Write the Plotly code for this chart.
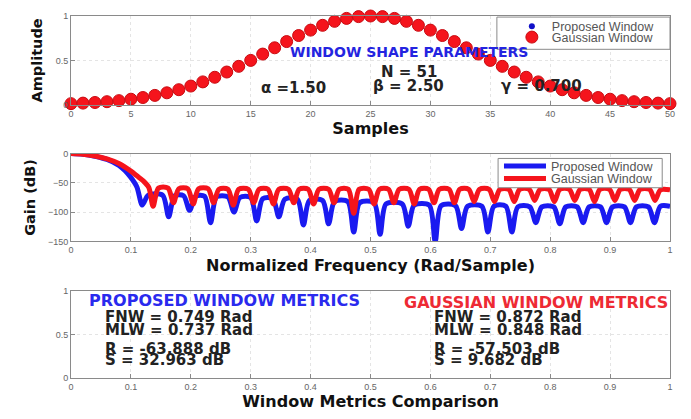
import plotly.graph_objects as go

# ---------------- data ----------------
samples = list(range(51))
gauss_amp = [0.013, 0.019, 0.026, 0.035, 0.047, 0.063, 0.082, 0.106, 0.135, 0.170,
             0.211, 0.258, 0.310, 0.369, 0.433, 0.500, 0.571, 0.642, 0.712, 0.780,
             0.841, 0.895, 0.940, 0.973, 0.993, 1.000, 0.993, 0.973, 0.940, 0.895,
             0.841, 0.780, 0.712, 0.642, 0.571, 0.500, 0.433, 0.369, 0.310, 0.258,
             0.211, 0.170, 0.135, 0.106, 0.082, 0.063, 0.047, 0.035, 0.026, 0.019, 0.013]
proposed_amp = list(gauss_amp)

# Proposed window magnitude response (dB): main lobe, then per side lobe:
# null (freq, depth), arch top start / end frequency, arch top level
blue_main_f = [0.0, 0.02, 0.04, 0.06, 0.08, 0.09, 0.10, 0.11]
blue_main_db = [0, -1, -4.5, -10, -20, -29, -41, -57]
blue_null_f = [0.119, 0.163, 0.198, 0.233, 0.272, 0.310, 0.347, 0.388, 0.430, 0.472, 0.516,
               0.563, 0.608, 0.652, 0.696, 0.736, 0.776, 0.816, 0.855, 0.894, 0.934, 0.974]
blue_null_db = [-88, -108, -97, -118, -100, -115, -108, -122, -120, -134, -138,
                -124, -150, -128, -134, -134, -118, -120, -118, -118, -118, -118]
blue_top_l = [0.129, 0.173, 0.208, 0.243, 0.282, 0.320, 0.357, 0.398, 0.440, 0.482, 0.526,
              0.573, 0.618, 0.662, 0.706, 0.746, 0.786, 0.826, 0.865, 0.904, 0.944, 0.984]
blue_top_r = [0.153, 0.188, 0.223, 0.262, 0.300, 0.337, 0.378, 0.420, 0.462, 0.506, 0.553,
              0.598, 0.642, 0.686, 0.726, 0.766, 0.806, 0.845, 0.884, 0.924, 0.964, 1.000]
blue_top_db = [-71, -72, -73, -74, -75, -77, -78, -80, -82, -84, -86,
               -88, -89, -90, -90, -91, -91, -91, -91, -91, -91, -90]

# Gaussian window magnitude response (dB)
red_main_f = [0.0, 0.02, 0.04, 0.06, 0.08, 0.10, 0.11, 0.12, 0.13]
red_main_db = [0, -1, -4, -9, -17, -30, -38, -46, -58]
red_null_f = [0.137, 0.171, 0.204, 0.238, 0.271, 0.305, 0.338, 0.372, 0.405, 0.439, 0.472, 0.506, 0.539,
              0.573, 0.606, 0.640, 0.673, 0.707, 0.740, 0.774, 0.807, 0.841, 0.874, 0.908, 0.941, 0.975]
red_null_db = [-90, -84, -86, -84, -88, -84, -86, -84, -86, -84, -102, -86, -84,
               -86, -84, -84, -82, -82, -82, -80, -82, -80, -82, -80, -80, -80]
red_top_l = [0.146, 0.180, 0.213, 0.247, 0.280, 0.314, 0.347, 0.381, 0.414, 0.448, 0.481, 0.515, 0.548,
             0.582, 0.615, 0.649, 0.682, 0.716, 0.749, 0.783, 0.816, 0.850, 0.883, 0.917, 0.950, 0.984]
red_top_r = [0.162, 0.195, 0.229, 0.262, 0.296, 0.329, 0.363, 0.396, 0.430, 0.463, 0.497, 0.530, 0.564,
             0.597, 0.631, 0.664, 0.698, 0.731, 0.765, 0.798, 0.832, 0.865, 0.899, 0.932, 0.966, 1.000]
red_top_db = [-59, -60, -60, -61, -61, -61, -61, -61, -61, -61, -61, -61, -61,
              -61, -61, -61, -61, -61, -61, -61, -61, -61, -61, -61, -61, -62]

params_title = "WINDOW SHAPE PARAMETERS"
param_texts = ["N = 51", "β = 2.50", "α =1.50", "γ = 0.700"]
proposed_title = "PROPOSED WINDOW METRICS"
gauss_title = "GAUSSIAN WINDOW METRICS"
proposed_metrics = ["FNW = 0.749 Rad", "MLW = 0.737 Rad", "R = -63.888 dB", "S = 32.963 dB"]
gauss_metrics = ["FNW = 0.872 Rad", "MLW = 0.848 Rad", "R = -57.503 dB", "S = 9.682 dB"]
legend_names = ["Proposed Window", "Gaussian Window"]


def build(main_f, main_db, null_f, null_db, tl, tr, top_db):
    xs, ys = list(main_f), list(main_db)
    for nf, nd, a, b, td in zip(null_f, null_db, tl, tr, top_db):
        xs += [nf, a, b]
        ys += [nd, td, td]
    return xs, ys


BLUE = "#1a1af0"
RED = "#f5141c"
FONT = "Arial"
BOLD = "DejaVu Sans"

fig = go.Figure()

# top panel
fig.add_trace(go.Scatter(x=samples, y=proposed_amp, mode="markers", name=legend_names[0],
                         marker=dict(color="#1010c8", size=6), cliponaxis=False,
                         xaxis="x", yaxis="y", legend="legend"))
fig.add_trace(go.Scatter(x=samples, y=gauss_amp, mode="markers", name=legend_names[1],
                         marker=dict(color=RED, size=12, line=dict(color="#c80a10", width=1)),
                         cliponaxis=False, xaxis="x", yaxis="y", legend="legend2"))

# middle panel
bx, by = build(blue_main_f, blue_main_db, blue_null_f, blue_null_db, blue_top_l, blue_top_r, blue_top_db)
rx, ry = build(red_main_f, red_main_db, red_null_f, red_null_db, red_top_l, red_top_r, red_top_db)
fig.add_trace(go.Scatter(x=bx, y=by, mode="lines", name=legend_names[0],
                         line=dict(color=BLUE, width=5, shape="spline", smoothing=0.8),
                         xaxis="x2", yaxis="y2", legend="legend3"))
fig.add_trace(go.Scatter(x=rx, y=ry, mode="lines", name=legend_names[1],
                         line=dict(color=RED, width=5, shape="spline", smoothing=0.8),
                         xaxis="x2", yaxis="y2", legend="legend4"))

# bottom panel (empty axes)
fig.add_trace(go.Scatter(x=[None], y=[None], mode="markers", showlegend=False,
                         xaxis="x3", yaxis="y3"))

axis_common = dict(showline=True, mirror=True, linecolor="#8a8a8a", linewidth=1,
                   ticks="inside", ticklen=4, tickcolor="#8a8a8a",
                   showgrid=True, gridcolor="#e4e4e4", griddash="dot", zeroline=False,
                   tickfont=dict(family=FONT, size=9, color="#666666"))
title_font = dict(family=BOLD, size=16, color="#111111", weight="bold")
ytitle_font = dict(family=BOLD, size=14.5, color="#111111", weight="bold")

leg_common = dict(bgcolor="rgba(0,0,0,0)", borderwidth=0, xanchor="left", yanchor="middle",
                  font=dict(family=FONT, size=12.5, color="#555555"))

fig.update_layout(
    width=691, height=419,
    margin=dict(l=71, r=21, t=11, b=37),
    paper_bgcolor="white", plot_bgcolor="white",
    font=dict(family=FONT),
    xaxis=dict(domain=[0, 1], range=[0, 50], tick0=0, dtick=5, anchor="y",
               title=dict(text="Samples", font=title_font, standoff=5), **axis_common),
    yaxis=dict(domain=[0.7547, 1], range=[0, 1], dtick=0.5, anchor="x",
               title=dict(text="Amplitude", font=ytitle_font, standoff=9), **axis_common),
    xaxis2=dict(domain=[0, 1], range=[0, 1], tick0=0, dtick=0.1, anchor="y2",
                title=dict(text="Normalized Frequency (Rad/Sample)", font=title_font, standoff=5),
                **axis_common),
    yaxis2=dict(domain=[0.3774, 0.6199], range=[-150, 0], dtick=50, anchor="x2",
                title=dict(text="Gain (dB)", font=ytitle_font, standoff=8), **axis_common),
    xaxis3=dict(domain=[0, 1], range=[0, 1], tick0=0, dtick=0.1, anchor="y3",
                title=dict(text="Window Metrics Comparison", font=title_font, standoff=5),
                **axis_common),
    yaxis3=dict(domain=[0, 0.2399], range=[0, 1], dtick=0.5, anchor="x3", **axis_common),
    legend=dict(x=0.736, y=0.9704, **leg_common),
    legend2=dict(x=0.736, y=0.9407, **leg_common),
    legend3=dict(x=0.7145, y=0.5849, itemwidth=42, **leg_common),
    legend4=dict(x=0.7145, y=0.5499, itemwidth=42, **leg_common),
    shapes=[
        dict(type="rect", xref="paper", yref="paper", x0=0.711, x1=1.0, y0=0.908, y1=0.997,
             fillcolor="white", line=dict(color="#8a8a8a", width=1), layer="above"),
        dict(type="rect", xref="paper", yref="paper", x0=0.713, x1=0.987, y0=0.5256, y1=0.6065,
             fillcolor="white", line=dict(color="#8a8a8a", width=1), layer="above"),
    ],
)

annots = []
annots.append(dict(x=28.2, y=0.6, xref="x", yref="y", text=params_title, showarrow=False,
                   font=dict(family=BOLD, size=14, color="#2424e0", weight="bold")))
param_pos = [(28.2, 0.37), (28.2, 0.21), (18.6, 0.19), (39.3, 0.21)]
for t, (px, py) in zip(param_texts, param_pos):
    annots.append(dict(x=px, y=py, xref="x", yref="y", text=t, showarrow=False,
                       font=dict(family=BOLD, size=15, color="#222222", weight="bold")))

annots.append(dict(x=0.257, y=0.888, xref="x3", yref="y3", text=proposed_title,
                   showarrow=False, font=dict(family=BOLD, size=16, color="#2a2aee", weight="bold")))
annots.append(dict(x=0.776, y=0.865, xref="x3", yref="y3", text=gauss_title,
                   showarrow=False, font=dict(family=BOLD, size=16, color="#ee2a34", weight="bold")))
metric_y = [0.70, 0.55, 0.337, 0.21]
for t, my in zip(proposed_metrics, metric_y):
    annots.append(dict(x=0.053, y=my, xref="x3", yref="y3", text=t, showarrow=False, xanchor="left",
                       font=dict(family=BOLD, size=15, color="#222222", weight="bold")))
for t, my in zip(gauss_metrics, metric_y):
    annots.append(dict(x=0.603, y=my, xref="x3", yref="y3", text=t, showarrow=False, xanchor="left",
                       font=dict(family=BOLD, size=15, color="#222222", weight="bold")))
fig.update_layout(annotations=annots)

fig.write_html("out.html", config={"displayModeBar": False},
               post_script="document.body.style.margin='0';")
